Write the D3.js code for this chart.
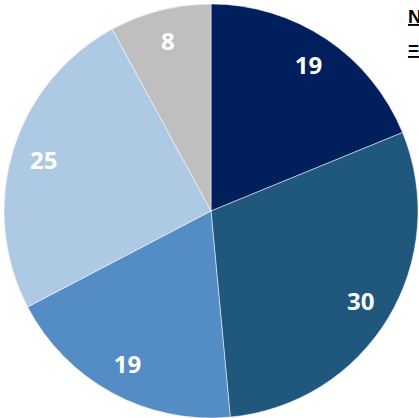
<!DOCTYPE html>
<html>
<head>
<meta charset="utf-8">
<script src="https://cdn.jsdelivr.net/npm/d3@7"></script>
<style>
  body { margin: 0; background: #fff; }
  svg { display: block; }
  .slice-label { font-family: "Open Sans", sans-serif; font-weight: bold; font-size: 24px; fill: #fff; }
  .note { font-family: "Liberation Sans", sans-serif; font-weight: bold; font-size: 19px; fill: #000; text-decoration: underline; }
</style>
</head>
<body>
<svg width="419" height="418"></svg>
<script>
const categories = ['A', 'B', 'C', 'D', 'E'];
const values = [19, 30, 19, 25, 8];
const colors = ['#001f5c', '#1f587c', '#548dc5', '#adc9e4', '#bfbfbf'];
const noteLines = ['N', '='];

const svg = d3.select('svg');
const width = +svg.attr('width');
const height = +svg.attr('height');

const cx = 211, cy = 211, radius = 207;

const data = categories.map((c, i) => ({ category: c, value: values[i] }));

const pie = d3.pie().sort(null).value(d => d.value);
const arc = d3.arc().innerRadius(0).outerRadius(radius);
const labelArc = d3.arc().innerRadius(radius * 0.845).outerRadius(radius * 0.845);

const color = d3.scaleOrdinal().domain(categories).range(colors);

const g = svg.append('g')
    .attr('transform', `translate(${cx},${cy})`);

const arcs = pie(data);

g.selectAll('path')
    .data(arcs)
    .enter()
    .append('path')
    .attr('d', arc)
    .attr('fill', d => color(d.data.category))
    .attr('stroke', '#ffffff')
    .attr('stroke-width', 0.5);

g.selectAll('.slice-label')
    .data(arcs)
    .enter()
    .append('text')
    .attr('class', 'slice-label')
    .attr('transform', d => `translate(${labelArc.centroid(d)})`)
    .attr('text-anchor', 'middle')
    .attr('dy', '0.36em')
    .text(d => d.data.value);

// clipped legend/note text on the right edge
svg.selectAll('.note')
    .data(noteLines)
    .enter()
    .append('text')
    .attr('class', 'note')
    .attr('x', 408)
    .attr('y', (d, i) => 23 + i * 32)
    .text(d => d);
</script>
</body>
</html>
